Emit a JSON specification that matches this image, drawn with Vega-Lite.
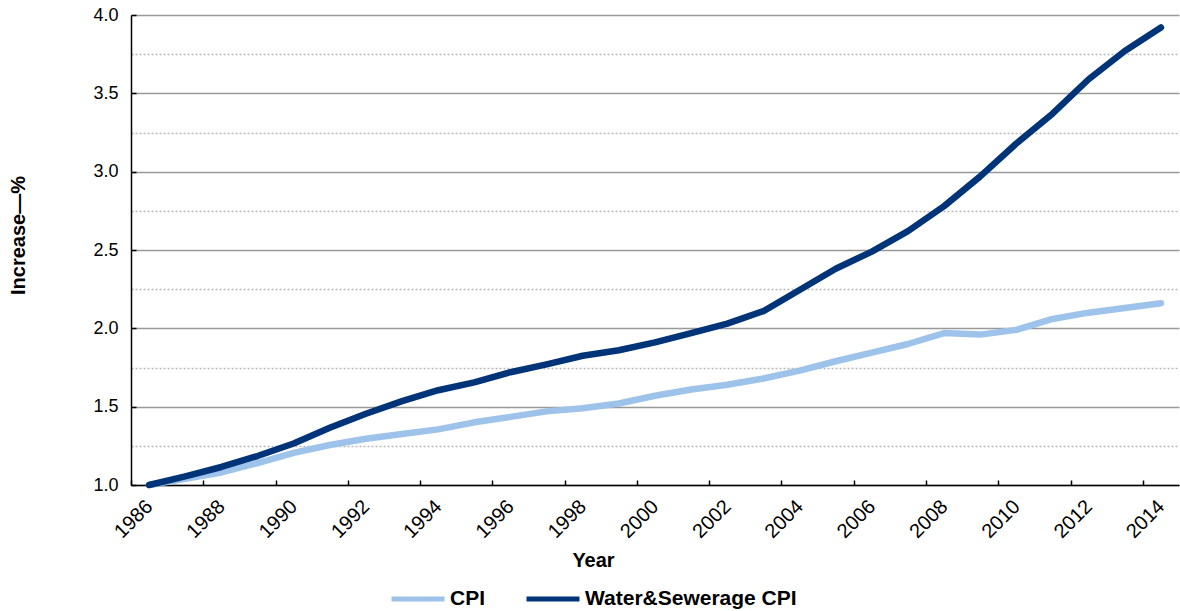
{
  "$schema": "https://vega.github.io/schema/vega-lite/v6.json",
  "width": 1048,
  "height": 470,
  "autosize": "none",
  "padding": {"left": 131, "top": 15, "right": 1, "bottom": 126},
  "background": "white",
  "config": {
    "view": {"stroke": null},
    "font": "Liberation Sans"
  },
  "data": {
    "values": [
      {"year": 1986, "series": "CPI", "value": 1.00},
      {"year": 1987, "series": "CPI", "value": 1.04},
      {"year": 1988, "series": "CPI", "value": 1.08},
      {"year": 1989, "series": "CPI", "value": 1.14},
      {"year": 1990, "series": "CPI", "value": 1.205},
      {"year": 1991, "series": "CPI", "value": 1.255},
      {"year": 1992, "series": "CPI", "value": 1.295},
      {"year": 1993, "series": "CPI", "value": 1.325},
      {"year": 1994, "series": "CPI", "value": 1.355},
      {"year": 1995, "series": "CPI", "value": 1.40},
      {"year": 1996, "series": "CPI", "value": 1.435},
      {"year": 1997, "series": "CPI", "value": 1.47},
      {"year": 1998, "series": "CPI", "value": 1.49},
      {"year": 1999, "series": "CPI", "value": 1.52},
      {"year": 2000, "series": "CPI", "value": 1.57},
      {"year": 2001, "series": "CPI", "value": 1.61},
      {"year": 2002, "series": "CPI", "value": 1.64},
      {"year": 2003, "series": "CPI", "value": 1.68},
      {"year": 2004, "series": "CPI", "value": 1.73},
      {"year": 2005, "series": "CPI", "value": 1.79},
      {"year": 2006, "series": "CPI", "value": 1.845},
      {"year": 2007, "series": "CPI", "value": 1.90},
      {"year": 2008, "series": "CPI", "value": 1.97},
      {"year": 2009, "series": "CPI", "value": 1.96},
      {"year": 2010, "series": "CPI", "value": 1.99},
      {"year": 2011, "series": "CPI", "value": 2.06},
      {"year": 2012, "series": "CPI", "value": 2.10},
      {"year": 2013, "series": "CPI", "value": 2.13},
      {"year": 2014, "series": "CPI", "value": 2.16},
      {"year": 1986, "series": "Water&Sewerage CPI", "value": 1.00},
      {"year": 1987, "series": "Water&Sewerage CPI", "value": 1.055},
      {"year": 1988, "series": "Water&Sewerage CPI", "value": 1.115},
      {"year": 1989, "series": "Water&Sewerage CPI", "value": 1.185},
      {"year": 1990, "series": "Water&Sewerage CPI", "value": 1.265},
      {"year": 1991, "series": "Water&Sewerage CPI", "value": 1.365},
      {"year": 1992, "series": "Water&Sewerage CPI", "value": 1.455},
      {"year": 1993, "series": "Water&Sewerage CPI", "value": 1.535},
      {"year": 1994, "series": "Water&Sewerage CPI", "value": 1.605},
      {"year": 1995, "series": "Water&Sewerage CPI", "value": 1.655},
      {"year": 1996, "series": "Water&Sewerage CPI", "value": 1.72},
      {"year": 1997, "series": "Water&Sewerage CPI", "value": 1.77},
      {"year": 1998, "series": "Water&Sewerage CPI", "value": 1.825},
      {"year": 1999, "series": "Water&Sewerage CPI", "value": 1.86},
      {"year": 2000, "series": "Water&Sewerage CPI", "value": 1.91},
      {"year": 2001, "series": "Water&Sewerage CPI", "value": 1.97},
      {"year": 2002, "series": "Water&Sewerage CPI", "value": 2.03},
      {"year": 2003, "series": "Water&Sewerage CPI", "value": 2.11},
      {"year": 2004, "series": "Water&Sewerage CPI", "value": 2.245},
      {"year": 2005, "series": "Water&Sewerage CPI", "value": 2.38},
      {"year": 2006, "series": "Water&Sewerage CPI", "value": 2.49},
      {"year": 2007, "series": "Water&Sewerage CPI", "value": 2.62},
      {"year": 2008, "series": "Water&Sewerage CPI", "value": 2.78},
      {"year": 2009, "series": "Water&Sewerage CPI", "value": 2.97},
      {"year": 2010, "series": "Water&Sewerage CPI", "value": 3.18},
      {"year": 2011, "series": "Water&Sewerage CPI", "value": 3.37},
      {"year": 2012, "series": "Water&Sewerage CPI", "value": 3.59},
      {"year": 2013, "series": "Water&Sewerage CPI", "value": 3.77},
      {"year": 2014, "series": "Water&Sewerage CPI", "value": 3.92}
    ]
  },
  "mark": {"type": "line", "strokeWidth": 6.5, "strokeCap": "round", "strokeJoin": "round"},
  "encoding": {
    "x": {
      "field": "year",
      "type": "quantitative",
      "scale": {"domain": [1985.5, 2014.5], "nice": false, "zero": false},
      "axis": {
        "title": "Year",
        "titleFont": "Liberation Sans",
        "titleFontSize": 20,
        "titleFontWeight": "bold",
        "titleColor": "black",
        "titleX": 462,
        "titleY": 75,
        "titleBaseline": "middle",
        "titleAlign": "center",
        "values": [1986, 1988, 1990, 1992, 1994, 1996, 1998, 2000, 2002, 2004, 2006, 2008, 2010, 2012, 2014],
        "format": "d",
        "tickOffset": -18.07,
        "labelOffset": 11,
        "tickSize": -5,
        "tickColor": "black",
        "tickWidth": 1.5,
        "domainColor": "black",
        "domainWidth": 1.5,
        "grid": false,
        "labelAngle": -45,
        "labelFontSize": 20,
        "labelColor": "black",
        "labelPadding": 16,
        "labelFlush": false,
        "labelOverlap": false
      }
    },
    "y": {
      "field": "value",
      "type": "quantitative",
      "scale": {"domain": [1, 4], "nice": false, "zero": false},
      "axis": {
        "title": "Increase—%",
        "titleFont": "Liberation Sans",
        "titleFontSize": 20,
        "titleFontWeight": "bold",
        "titleColor": "black",
        "titleX": -113,
        "titleY": 220,
        "titleAlign": "center",
        "titleBaseline": "middle",
        "values": [1, 1.25, 1.5, 1.75, 2, 2.25, 2.5, 2.75, 3, 3.25, 3.5, 3.75, 4],
        "labelExpr": "datum.value % 0.5 == 0 ? format(datum.value, '.1f') : ''",
        "labelFontSize": 18,
        "labelColor": "black",
        "labelPadding": 18,
        "tickSize": -5,
        "tickColor": "black",
        "tickWidth": 1.5,
        "tickOpacity": {"condition": {"test": "datum.value % 0.5 != 0", "value": 0}, "value": 1},
        "domainColor": "black",
        "domainWidth": 1.5,
        "grid": true,
        "gridColor": {"condition": {"test": "datum.value % 0.5 != 0", "value": "#b8b8b8"}, "value": "#999999"},
        "gridDash": {"condition": {"test": "datum.value % 0.5 != 0", "value": [2, 2]}, "value": []},
        "gridWidth": 1.6
      }
    },
    "color": {
      "field": "series",
      "type": "nominal",
      "sort": ["CPI", "Water&Sewerage CPI"],
      "scale": {"domain": ["CPI", "Water&Sewerage CPI"], "range": ["#9dc3ea", "#003478"]},
      "legend": {
        "title": null,
        "orient": "none",
        "direction": "horizontal",
        "legendX": 258,
        "legendY": 555,
        "symbolType": "stroke",
        "symbolSize": 2809,
        "symbolStrokeWidth": 5,
        "labelFontSize": 21,
        "labelFontWeight": "bold",
        "labelColor": "black",
        "labelLimit": 400,
        "labelOffset": 3,
        "columnPadding": 30
      }
    }
  }
}
